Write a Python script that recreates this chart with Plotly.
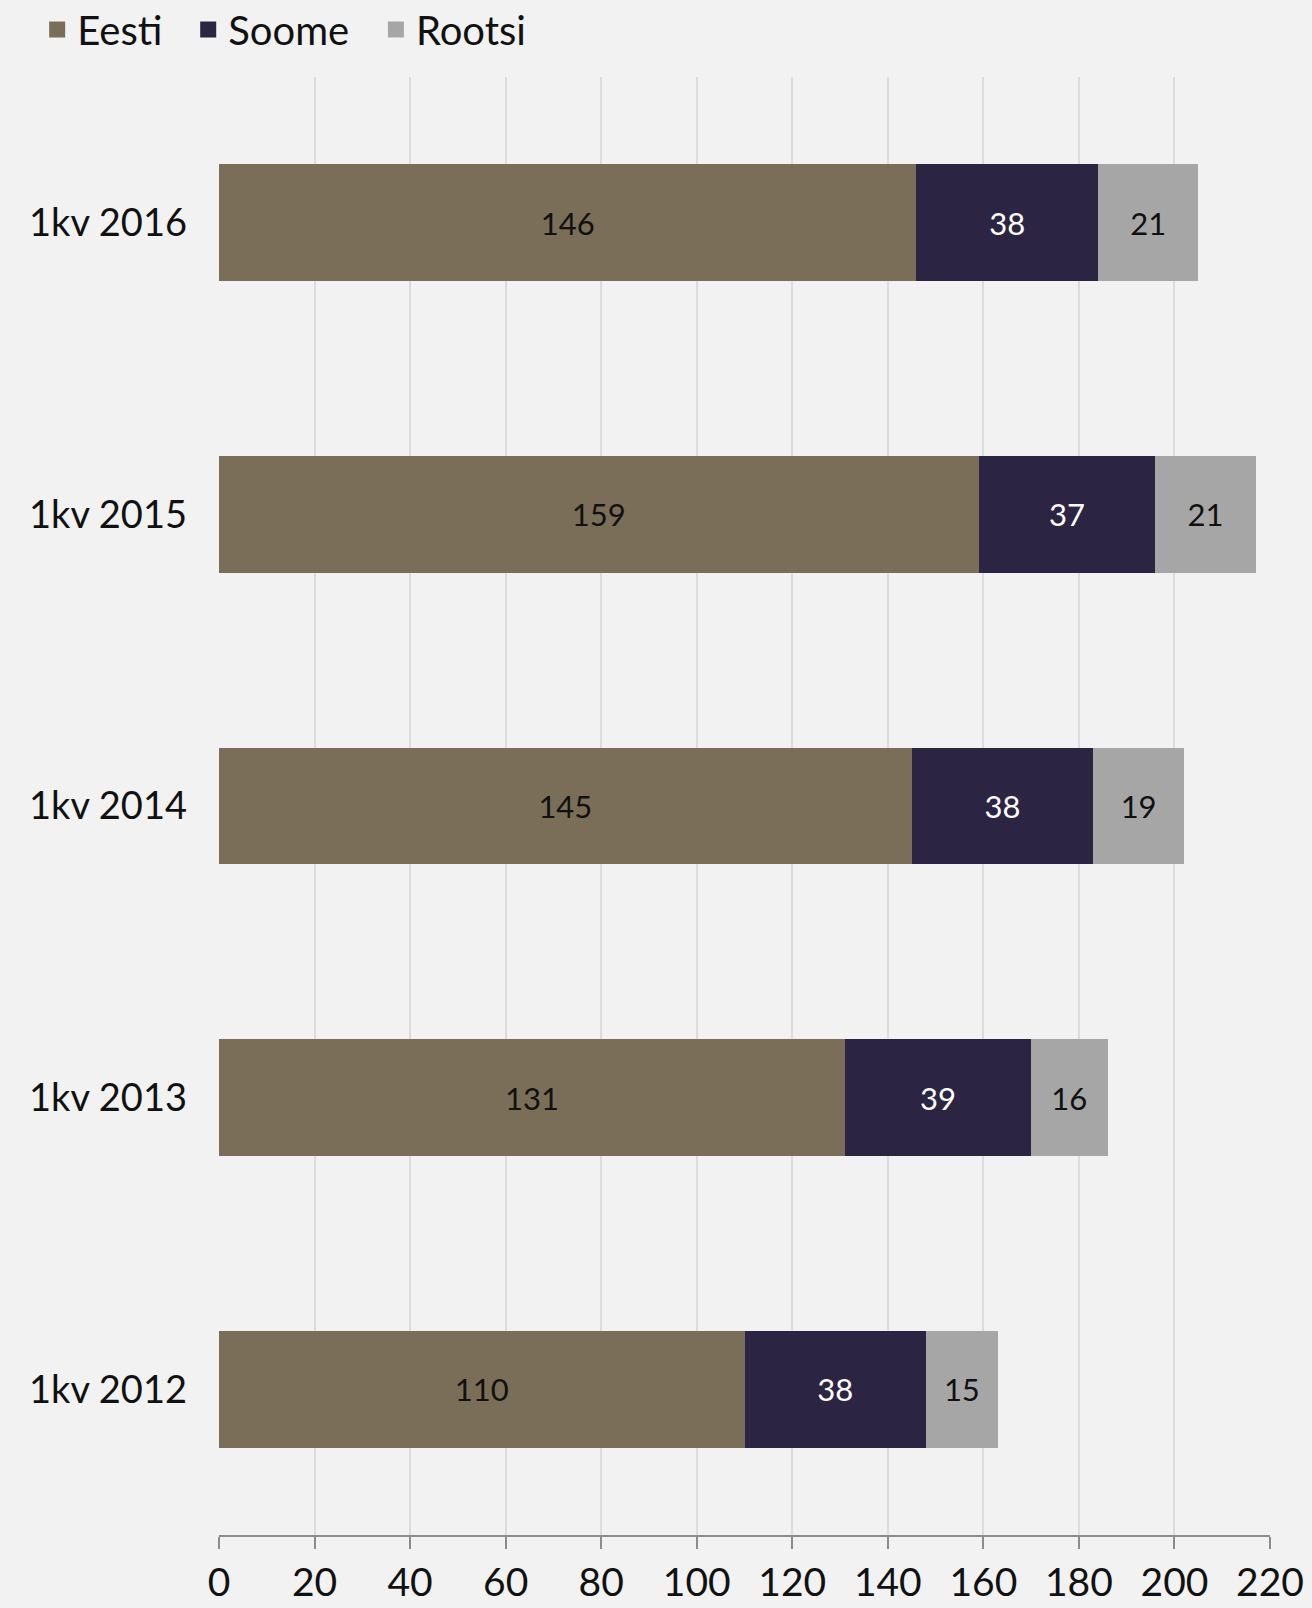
import plotly.graph_objects as go

categories = ["1kv 2012", "1kv 2013", "1kv 2014", "1kv 2015", "1kv 2016"]
eesti = [110, 131, 145, 159, 146]
soome = [38, 39, 38, 37, 38]
rootsi = [15, 16, 19, 21, 21]
x_ticks = list(range(0, 221, 20))

FONT = "Lato"
series = [
    ("Eesti", eesti, "#7a6e58", "#111111", "legend", -0.1730),
    ("Soome", soome, "#2b2543", "#ffffff", "legend2", -0.0293),
    ("Rootsi", rootsi, "#a6a6a6", "#111111", "legend3", 0.1493),
]

fig = go.Figure()
for name, vals, col, tcol, lg, lx in series:
    fig.add_trace(go.Bar(
        name=name, y=categories, x=vals, orientation="h",
        marker=dict(color=col, line=dict(width=0)),
        text=[str(v) for v in vals], textposition="inside",
        insidetextanchor="middle",
        textfont=dict(family=FONT, size=31, color=tcol),
        width=0.4, showlegend=False, legendgroup=name,
    ))
# legend proxies (larger square symbols), one legend per entry
legend_layout = {}
for name, vals, col, tcol, lg, lx in series:
    fig.add_trace(go.Scatter(
        name=name, x=[None], y=[None], mode="markers",
        marker=dict(symbol="square", size=18, color=col),
        showlegend=True, legendgroup=name, hoverinfo="skip", legend=lg,
    ))
    legend_layout[lg] = dict(orientation="h", x=lx, xanchor="left", y=1.0549,
                             yanchor="top", font=dict(size=40, family=FONT, color="#111111"),
                             bgcolor="rgba(0,0,0,0)", itemwidth=30,
                             itemsizing="trace")

fig.update_layout(
    barmode="stack",
    width=1312, height=1608,
    paper_bgcolor="#f2f2f2", plot_bgcolor="#f2f2f2",
    margin=dict(l=219, r=42, t=77, b=73, autoexpand=False),
    font=dict(family=FONT, size=38, color="#111111"),
    showlegend=True,
    uniformtext=dict(minsize=10, mode="show"),
    **legend_layout,
)
fig.update_xaxes(range=[0, 220], tickvals=x_ticks, ticktext=[str(t) for t in x_ticks],
                 showgrid=True, gridcolor="#dcdcdc", gridwidth=2,
                 showline=True, linecolor="#8c8c8c", linewidth=2,
                 ticks="outside", ticklen=12, tickcolor="#8c8c8c", tickwidth=2,
                 tickfont=dict(size=39, family=FONT), zeroline=False, automargin=False)
fig.update_yaxes(showgrid=False, tickfont=dict(size=38, family=FONT),
                 ticks="", ticklabelstandoff=31, zeroline=False, automargin=False,
                 categoryorder="array", categoryarray=categories)

fig.write_html("out.html", config={"displayModeBar": False},
               post_script="document.body.style.margin='0';document.body.style.background='#f2f2f2';")
